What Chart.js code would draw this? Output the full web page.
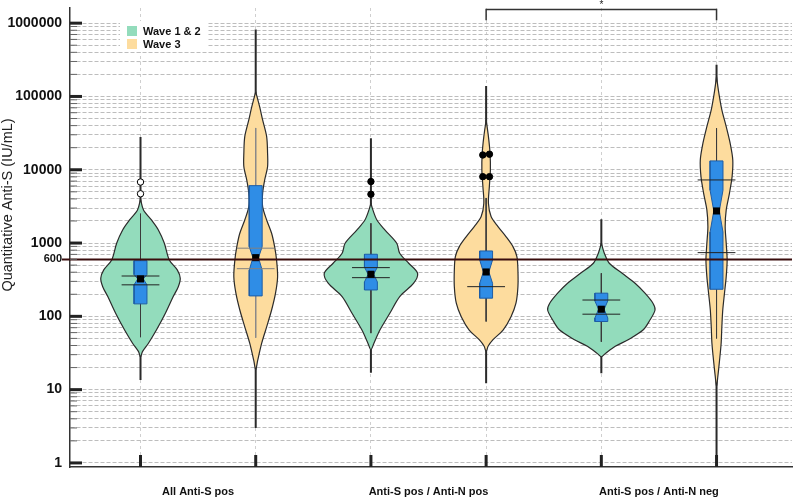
<!DOCTYPE html>
<html><head><meta charset="utf-8">
<script src="https://cdn.jsdelivr.net/npm/chart.js@4.4.1/dist/chart.umd.min.js"></script>
<style>html,body{margin:0;padding:0;background:#fff}#wrap{width:797px;height:504px}</style>
</head><body><div id="wrap"><canvas id="c" width="797" height="504"></canvas></div>
<script>
// ---------- DATA ----------
const categories = ['All Anti-S pos', 'Anti-S pos / Anti-N pos', 'Anti-S pos / Anti-N neg'];
const seriesNames = ['Wave 1 & 2', 'Wave 3'];
const violinPos = [0, 1, 2, 3, 4, 5];
const violinSeries = [0, 1, 0, 1, 0, 1];
const yTickLabels = [1, 10, 100, 600, 1000, 10000, 100000, 1000000];
const referenceValue = 600;

// violin outlines: values (IU/mL) from top tip to bottom tip, and half-widths (category units)
const densityValues1 = [3981, 2831, 2065, 1510, 993, 587, 430, 331, 254, 186, 110, 65, 43, 33, 28];
const densityWidths1 = [0, .026, .095, .155, .207, .25, .319, .345, .328, .284, .216, .138, .069, .017, 0];
const densityValues2 = [116400, 72600, 47750, 28300, 16800, 11040, 7260, 4775, 3140, 2065, 1361, 893, 587, 348, 207, 122, 72, 43, 25, 18.6];
const densityWidths2 = [0, .034, .06, .095, .103, .103, .078, .06, .06, .095, .138, .164, .181, .19, .172, .138, .095, .052, .017, 0];
const densityValues3 = [3490, 2831, 2065, 1510, 993, 726, 530, 387, 283, 186, 110, 65, 43, 35];
const densityWidths3 = [0, .017, .052, .121, .224, .25, .328, .405, .371, .25, .164, .078, .026, 0];
const densityValues4 = [47750, 28300, 16800, 9931, 5890, 3490, 2296, 1675, 1225, 893, 653, 430, 254, 151, 99, 65, 48, 39, 33];
const densityWidths4 = [0, .02, .034, .037, .028, .02, .043, .103, .172, .233, .267, .276, .276, .259, .216, .147, .06, .017, 0];
const densityValues5 = [993, 726, 530, 387, 283, 207, 151, 122, 89, 65, 48, 39, 31, 28];
const densityWidths5 = [0, .026, .069, .181, .293, .379, .448, .466, .422, .362, .233, .121, .034, 0];
const densityValues6 = [186200, 110700, 65500, 38730, 23000, 13600, 8050, 4775, 2831, 1675, 993, 587, 348, 207, 122, 72, 43, 25, 15, 11];
const densityWidths6 = [0, .02, .046, .084, .118, .141, .135, .112, .084, .075, .084, .092, .084, .069, .054, .046, .04, .026, .011, 0];

const whiskerTop    = [28000, 822000, 26900, 139000, 2110, 270000];
const whiskerBottom = [13.5, 3, 17, 12.2, 16.7, 1.28];
const innerTop      = [2512, 37150, 1860, 4120, 387, 36800];
const innerBottom   = [52, 51, 59, 85, 45, 50];
const boxQ1     = [148, 190, 229, 177, 85, 234];
const boxQ3     = [575, 6070, 703, 780, 207, 13200];
const boxMedian = [324, 632, 375, 403, 125, 2740];
const notchLow  = [269, 427, 295, 282, 95, 1413];
const notchHigh = [372, 891, 468, 589, 162, 5250];
const ciLow  = [269, 447, 337, 254, 107, 740];
const ciHigh = [355, 851, 462, null, 167, 7260];

const outlierViolin = [0, 0, 2, 2, 3, 3, 3, 3];
const outlierValues = [6800, 4700, 6900, 4630, 15900, 16300, 8050, 8050];
const outlierJitter = [0, 0, 0, 0, -0.029, 0.029, -0.029, 0.029];

const bracketFrom = 3, bracketTo = 5, bracketTop = 1.54e6, bracketLeg = 1.1e6;

// ---------- STYLE ----------
const FONT = '"Liberation Sans", Arial, sans-serif';
const fillColors = ['#93dcbc', '#fddc9e'];
const BOX_HW = 0.056, NOTCH_HW = 0.024, CI_HW = 0.164;

const densityValues = [densityValues1, densityValues2, densityValues3, densityValues4, densityValues5, densityValues6];
const densityWidths = [densityWidths1, densityWidths2, densityWidths3, densityWidths4, densityWidths5, densityWidths6];

const datasets = [];
violinPos.forEach((c, i) => {
  datasets.push({type: 'line', data: [{x: c, y: whiskerTop[i]}, {x: c, y: whiskerBottom[i]}],
    borderColor: '#2a2a2a', borderWidth: 2, pointRadius: 0, fill: false, order: 60});
  const vals = densityValues[i], ws = densityWidths[i];
  const pts = [];
  for (let j = 0; j < vals.length; j++) pts.push({x: c + ws[j], y: vals[j]});
  for (let j = vals.length - 2; j >= 0; j--) pts.push({x: c - ws[j], y: vals[j]});
  datasets.push({type: 'line', data: pts, borderColor: '#2b2b2b', borderWidth: 1.2,
    backgroundColor: fillColors[violinSeries[i]], fill: 'shape', pointRadius: 0, tension: 0.3, order: 50});
  datasets.push({type: 'line', data: [{x: c, y: innerTop[i]}, {x: c, y: innerBottom[i]}],
    borderColor: i === 1 ? '#8a8a8a' : '#3a3a3a', borderWidth: 1, pointRadius: 0, fill: false, order: 40});
  const box = [
    {x: c - BOX_HW, y: boxQ3[i]}, {x: c - BOX_HW, y: notchHigh[i]}, {x: c - NOTCH_HW, y: boxMedian[i]},
    {x: c - BOX_HW, y: notchLow[i]}, {x: c - BOX_HW, y: boxQ1[i]}, {x: c + BOX_HW, y: boxQ1[i]},
    {x: c + BOX_HW, y: notchLow[i]}, {x: c + NOTCH_HW, y: boxMedian[i]}, {x: c + BOX_HW, y: notchHigh[i]},
    {x: c + BOX_HW, y: boxQ3[i]}, {x: c - BOX_HW, y: boxQ3[i]}];
  datasets.push({type: 'line', data: box, borderColor: '#1e5da6', borderWidth: 1,
    backgroundColor: '#2f8de6', fill: 'shape', pointRadius: 0, tension: 0, order: 20});
  [ciLow[i], ciHigh[i]].forEach(v => {
    if (v == null) return;
    datasets.push({type: 'line', data: [{x: c - CI_HW, y: v}, {x: c + CI_HW, y: v}],
      borderColor: i === 1 ? '#808080' : '#222', borderWidth: 1, pointRadius: 0, fill: false, order: 10});
  });
  datasets.push({type: 'scatter', data: [{x: c, y: boxMedian[i]}], pointStyle: 'rect', pointRadius: 5,
    backgroundColor: '#000', borderColor: '#000', borderWidth: 0, order: 8});
});
outlierValues.forEach((v, k) => {
  const i = outlierViolin[k];
  const open = i === 0;
  datasets.push({type: 'scatter', data: [{x: violinPos[i] + outlierJitter[k], y: v}], pointRadius: 3.2,
    backgroundColor: open ? '#fff' : '#000', borderColor: '#000', borderWidth: 1, order: 5});
});
datasets.push({type: 'line', data: [{x: bracketFrom, y: bracketLeg}, {x: bracketFrom, y: bracketTop},
  {x: bracketTo, y: bracketTop}, {x: bracketTo, y: bracketLeg}],
  borderColor: '#333', borderWidth: 1.5, pointRadius: 0, fill: false, order: 1, clip: false});

const xTickValues = [0, 0.5, 1, 2, 2.5, 3, 4, 4.5, 5];
const xLabelAt = {0.5: categories[0], 2.5: categories[1], 4.5: categories[2]};
const labelSet = new Set(yTickLabels);

const overlay = {
  id: 'overlay',
  afterDatasetsDraw(chart) {
    const {ctx, chartArea: a, scales: {y}} = chart;
    ctx.save();
    const yr = Math.round(y.getPixelForValue(referenceValue)) + 0.5;
    ctx.strokeStyle = '#3a0d0d'; ctx.lineWidth = 2;
    ctx.beginPath(); ctx.moveTo(a.left - 8, yr); ctx.lineTo(a.right, yr); ctx.stroke();
    ctx.restore();
  },
  afterDraw(chart) {
    const {ctx, chartArea: a, scales: {x, y}} = chart;
    ctx.save();
    y.ticks.forEach(t => {
      const py = y.getPixelForValue(t.value);
      const lg = Math.log10(t.value);
      const major = Math.abs(lg - Math.round(lg)) < 1e-9;
      ctx.strokeStyle = major ? '#222' : '#666';
      ctx.lineWidth = major ? 3 : 1;
      ctx.beginPath(); ctx.moveTo(a.left, py); ctx.lineTo(a.left + (major ? 12 : 7), py); ctx.stroke();
    });
    violinPos.forEach(p => {
      const px = x.getPixelForValue(p);
      ctx.strokeStyle = '#222'; ctx.lineWidth = 3;
      ctx.beginPath(); ctx.moveTo(px, a.bottom); ctx.lineTo(px, a.bottom - 12); ctx.stroke();
    });
    ctx.fillStyle = '#222'; ctx.font = '10px ' + FONT; ctx.textAlign = 'center'; ctx.textBaseline = 'middle';
    ctx.fillText('*', x.getPixelForValue((bracketFrom + bracketTo) / 2), 5);
    ctx.fillStyle = '#fff'; ctx.fillRect(120, 21, 88, 31);
    seriesNames.forEach((n, k) => {
      ctx.fillStyle = fillColors[k];
      ctx.fillRect(127, 26 + k * 13, 10, 10);
      ctx.fillStyle = '#111'; ctx.font = 'bold 11px ' + FONT; ctx.textAlign = 'left'; ctx.textBaseline = 'middle';
      ctx.fillText(n, 143, 31.5 + k * 13);
    });
    ctx.translate(8, 205); ctx.rotate(-Math.PI / 2);
    ctx.fillStyle = '#222'; ctx.font = '14.5px ' + FONT; ctx.textAlign = 'center'; ctx.textBaseline = 'middle';
    ctx.fillText('Quantitative Anti-S (IU/mL)', 0, 0);
    ctx.restore();
  }
};

const noPad = s => { s.paddingTop = 0; s.paddingBottom = 0; s.paddingLeft = 0; s.paddingRight = 0; };

new Chart(document.getElementById('c'), {
  type: 'line',
  data: {datasets},
  options: {
    responsive: false, animation: false, devicePixelRatio: 1,
    layout: {padding: {top: 8, right: 0, left: 0, bottom: 0}},
    plugins: {legend: {display: false}, tooltip: {enabled: false}},
    scales: {
      x: {type: 'linear', min: -0.612, max: 5.655,
        afterBuildTicks: s => { s.ticks = xTickValues.map(v => ({value: v})); },
        afterFit: s => { s.height = 37; noPad(s); },
        ticks: {autoSkip: false, maxRotation: 0, padding: 18, color: '#111',
          font: {family: FONT, size: 11, weight: 'bold'},
          callback: v => xLabelAt[v] || ''},
        grid: {drawTicks: false, lineWidth: 1,
          color: ctx => (ctx.tick && ctx.tick.value % 1 === 0) ? '#cfcfcf' : 'rgba(0,0,0,0)'},
        border: {display: true, color: '#333', width: 1.5, dash: [3, 3]}
      },
      y: {type: 'logarithmic', min: 0.88, max: 1.61e6,
        afterBuildTicks: s => {
          const t = [];
          for (let k = 0; k < 6; k++) for (let m = 1; m < 10; m++) t.push({value: m * Math.pow(10, k)});
          t.push({value: 1e6});
          s.ticks = t;
        },
        afterFit: s => { s.width = 70; noPad(s); },
        ticks: {autoSkip: false, padding: 8, color: '#111',
          font: ctx => ({family: FONT, size: (ctx.tick && ctx.tick.value === 600) ? 11 : 14, weight: 'bold'}),
          callback: v => labelSet.has(v) ? String(v) : ''},
        grid: {drawTicks: false, lineWidth: 1,
          color: ctx => (ctx.tick && ctx.tick.value === 600) ? 'rgba(0,0,0,0)' : '#bdbdbd'},
        border: {display: true, color: '#333', width: 1.5, dash: [4, 2]}
      }
    }
  },
  plugins: [overlay]
});
</script></body></html>
